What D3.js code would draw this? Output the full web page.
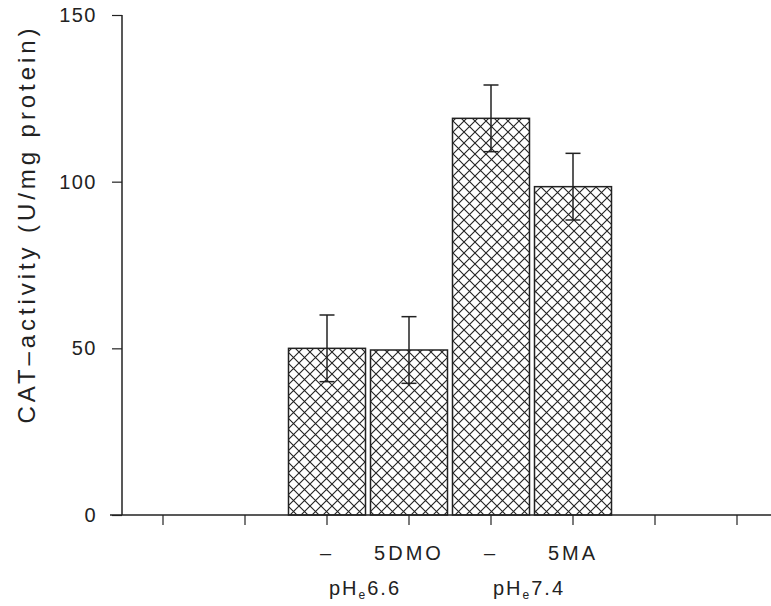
<!DOCTYPE html>
<html>
<head>
<meta charset="utf-8">
<script src="https://cdn.jsdelivr.net/npm/d3@7"></script>
<style>
  body { margin: 0; background: #fff; }
  svg text { font-family: "Liberation Sans", Arial, Helvetica, sans-serif; fill: #222; }
</style>
</head>
<body>
<svg id="chart" width="771" height="606"></svg>
<script>
// slots along the x axis (8 ticks, only the middle four carry bars)
var slots = ['e1', 'e2', 'c66', 'dmo', 'c74', 'ma', 'e3', 'e4'];
var barSlots = ['c66', 'dmo', 'c74', 'ma'];
var treatLabels = ['\u2013', '5DMO', '\u2013', '5MA'];
var means = [50, 49.5, 119, 98.5];
var errs = [10, 10, 10, 10];
var phLabels = ['6.6', '7.4'];
var phSlots = [['c66', 'dmo'], ['c74', 'ma']];
var yTicks = [0, 50, 100, 150];

var svg = d3.select('#chart');
var x0 = 122, x1 = 778, yTop = 15, yBase = 515;

var x = d3.scaleBand().domain(slots).range([x0, x1]).paddingInner(0).paddingOuter(0);
var y = d3.scaleLinear().domain([0, 150]).range([yBase, yTop]);
var barW = x.bandwidth() - 5;

// crosshatch pattern
var hp = 11;
var defs = svg.append('defs');
var pat = defs.append('pattern')
  .attr('id', 'hatch')
  .attr('patternUnits', 'userSpaceOnUse')
  .attr('width', hp).attr('height', hp)
  .attr('x', 288).attr('y', 0);
pat.append('rect').attr('width', hp).attr('height', hp).attr('fill', '#fff');
pat.append('path')
  .attr('d', 'M0,0 L' + hp + ',' + hp + ' M' + hp + ',0 L0,' + hp +
             ' M-1,' + (hp - 1) + ' L1,' + (hp + 1) + ' M' + (hp - 1) + ',-1 L' + (hp + 1) + ',1')
  .attr('stroke', '#222').attr('stroke-width', 1.1).attr('fill', 'none');

var data = barSlots.map(function (s, i) {
  return { slot: s, mean: means[i], err: errs[i], label: treatLabels[i] };
});

// bars
svg.selectAll('rect.bar')
  .data(data)
  .enter()
  .append('rect')
  .attr('class', 'bar')
  .attr('x', function (d) { return x(d.slot) + (x.bandwidth() - barW) / 2; })
  .attr('y', function (d) { return y(d.mean); })
  .attr('width', barW)
  .attr('height', function (d) { return yBase - y(d.mean); })
  .attr('fill', 'url(#hatch)')
  .attr('stroke', '#222')
  .attr('stroke-width', 1.5);

// error bars
var eb = svg.selectAll('g.err')
  .data(data)
  .enter()
  .append('g')
  .attr('class', 'err')
  .attr('stroke', '#222')
  .attr('stroke-width', 1.5);
eb.append('line')
  .attr('x1', function (d) { return x(d.slot) + x.bandwidth() / 2; })
  .attr('x2', function (d) { return x(d.slot) + x.bandwidth() / 2; })
  .attr('y1', function (d) { return y(d.mean + d.err); })
  .attr('y2', function (d) { return y(d.mean - d.err); });
eb.selectAll('line.cap')
  .data(function (d) { return [d.mean + d.err, d.mean - d.err].map(function (v) { return { slot: d.slot, v: v }; }); })
  .enter()
  .append('line')
  .attr('class', 'cap')
  .attr('x1', function (d) { return x(d.slot) + x.bandwidth() / 2 - 7.5; })
  .attr('x2', function (d) { return x(d.slot) + x.bandwidth() / 2 + 7.5; })
  .attr('y1', function (d) { return y(d.v); })
  .attr('y2', function (d) { return y(d.v); });

// y axis
var yAxis = d3.axisLeft(y).tickValues(yTicks).tickSize(10).tickPadding(15).tickFormat(d3.format('d'));
var gy = svg.append('g').attr('transform', 'translate(' + x0 + ',0)').call(yAxis);
gy.select('.domain').remove();
gy.append('line').attr('x1', 0).attr('x2', 0).attr('y1', yTop).attr('y2', yBase).attr('stroke', '#222').attr('stroke-width', 1.5);
gy.selectAll('.tick line').attr('stroke', '#222').attr('stroke-width', 1.2);
gy.selectAll('.tick text')
  .attr('font-size', 20)
  .attr('letter-spacing', 1.5)
  .attr('fill', '#222')
  .style('font-family', '"Liberation Sans", Arial, sans-serif');

// x axis
var xAxis = d3.axisBottom(x).tickSize(10).tickFormat('');
var gx = svg.append('g').attr('transform', 'translate(0,' + yBase + ')').call(xAxis);
gx.select('.domain').remove();
gx.append('line').attr('x1', 110).attr('x2', 771).attr('y1', 0).attr('y2', 0).attr('stroke', '#222').attr('stroke-width', 1.5);
gx.selectAll('.tick line').attr('stroke', '#222').attr('stroke-width', 1.2);

// treatment labels
svg.selectAll('text.treat')
  .data(data)
  .enter()
  .append('text')
  .attr('class', 'treat')
  .attr('x', function (d) { return x(d.slot) + x.bandwidth() / 2; })
  .attr('y', 560)
  .attr('text-anchor', 'middle')
  .attr('font-size', 20)
  .attr('letter-spacing', 3)
  .text(function (d) { return d.label; });

// pH groups
var ph = svg.selectAll('text.ph')
  .data(phLabels)
  .enter()
  .append('text')
  .attr('class', 'ph')
  .attr('x', function (d, i) { return (x(phSlots[i][0]) + x(phSlots[i][1]) + x.bandwidth()) / 2 - 3; })
  .attr('y', 595)
  .attr('text-anchor', 'middle')
  .attr('font-size', 20)
  .attr('letter-spacing', 2);
ph.append('tspan').text('pH');
ph.append('tspan').attr('font-size', 12).attr('dy', 4).text('e');
ph.append('tspan').attr('dy', -4).text(function (d) { return d; });

// y axis title
svg.append('text')
  .attr('transform', 'translate(35,226) rotate(-90)')
  .attr('text-anchor', 'middle')
  .attr('font-size', 24)
  .attr('textLength', 395)
  .attr('lengthAdjust', 'spacing')
  .text('CAT\u2013activity (U/mg protein)');
</script>
</body>
</html>
